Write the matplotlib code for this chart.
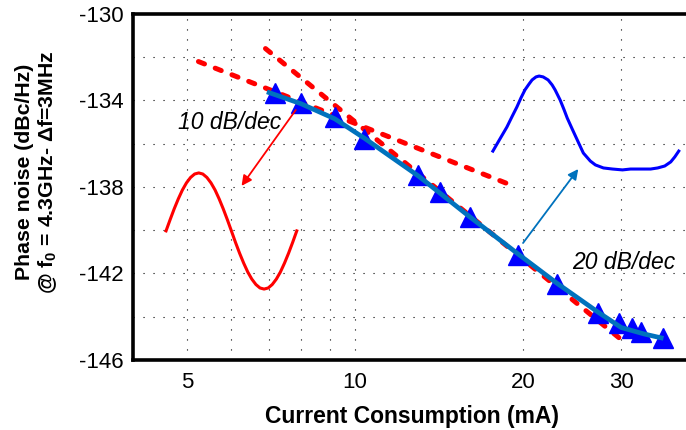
import matplotlib
matplotlib.use("Agg")
import matplotlib.pyplot as plt
from matplotlib.ticker import FixedLocator, NullFormatter

plt.rcParams['font.family'] = ['Liberation Sans', 'DejaVu Sans']
plt.rcParams['mathtext.fontset'] = 'custom'
plt.rcParams['mathtext.rm'] = 'Liberation Sans'
plt.rcParams['mathtext.bf'] = 'Liberation Sans:bold'
plt.rcParams['axes.unicode_minus'] = False

# measured points (current in mA, phase noise in dBc/Hz)
meas_i = [7.18, 7.99, 9.20, 10.38, 12.99, 14.17, 16.05, 19.58, 23.0, 27.3, 29.7, 31.3, 32.6, 35.7]
meas_pn = [-133.65, -134.12, -134.77, -135.79, -137.45, -138.24, -139.40, -141.16,
           -142.50, -143.84, -144.31, -144.54, -144.72, -145.0]

# smooth fit through the measurements
fit_i = [6.95, 8.0, 9.2, 10.4, 13.0, 16.0, 19.6, 23.0, 27.3, 30.0, 33.0, 35.7]
fit_pn = [-133.6, -134.15, -134.85, -135.75, -137.5, -139.35, -141.1, -142.45, -143.8,
          -144.5, -144.8, -145.0]

# slope guide lines
g10_i = [5.24, 19.2]
g10_pn = [-132.2, -137.95]
g20_i = [6.91, 30.8]
g20_pn = [-131.6, -145.3]

# waveform sketches
red_w_i = [4.584, 4.662, 4.741, 4.822, 4.904, 4.987, 5.072, 5.158, 5.246, 5.335, 5.426,
           5.518, 5.612, 5.707, 5.804, 5.903, 6.003, 6.105, 6.209, 6.315, 6.422, 6.531,
           6.642, 6.755, 6.870, 6.987, 7.105, 7.226, 7.349, 7.474, 7.601, 7.730, 7.862]
red_w_pn = [-140.03, -139.51, -139.01, -138.55, -138.14, -137.81, -137.56, -137.40, -137.35,
            -137.40, -137.56, -137.81, -138.14, -138.55, -139.01, -139.51, -140.03,
            -140.56, -141.06, -141.52, -141.93, -142.26, -142.51, -142.67, -142.72,
            -142.67, -142.51, -142.26, -141.93, -141.52, -141.06, -140.56, -140.03]
blue_w_i = [17.66, 18.18, 18.71, 19.10, 19.50, 19.83, 20.16, 20.50, 20.76, 21.10, 21.37,
            21.73, 22.18, 22.55, 22.83, 23.31, 23.70, 24.00, 24.50, 25.02, 25.65, 26.40,
            26.96, 27.87, 28.93, 30.15, 31.17, 32.49, 33.86, 34.86, 35.89, 36.79, 37.41, 38.03]
blue_w_pn = [-136.34, -135.78, -135.23, -134.76, -134.30, -133.88, -133.51, -133.24, -133.05,
             -132.91, -132.87, -132.91, -133.05, -133.28, -133.51, -133.98, -134.44, -134.81,
             -135.32, -135.83, -136.43, -136.80, -136.98, -137.12, -137.17, -137.21, -137.17,
             -137.17, -137.17, -137.12, -137.03, -136.84, -136.61, -136.34]

fig = plt.figure(figsize=(6.86, 4.30), dpi=100)
ax = fig.add_axes([0.1939, 0.1628, 0.8134, 0.8047])
ax.set_xscale('log')
ax.set_xlim(4, 40)
ax.set_ylim(-146, -130)

red = '#FF0000'
teal = '#0072BD'

for gi, gp in [(g10_i, g10_pn), (g20_i, g20_pn)]:
    ln, = ax.plot(gi, gp, color=red, lw=3.6, zorder=3)
    ln.set_dashes([1.3, 2.3])
    ln.set_dash_capstyle('round')

ax.plot(meas_i, meas_pn, ls='none', marker='^', ms=14, color='#0000FF', zorder=4)
ax.plot(fit_i, fit_pn, color=teal, lw=3.4, zorder=5, solid_capstyle='butt')

ax.plot(red_w_i, red_w_pn, color=red, lw=2.2, zorder=3, solid_joinstyle='round')
ax.plot(blue_w_i, blue_w_pn, color='#0000FF', lw=2.2, zorder=3, solid_joinstyle='round')

ax.annotate('', xy=(6.26, -137.95), xytext=(7.83, -134.44),
            arrowprops=dict(arrowstyle='-|>', color=red, lw=1.3, mutation_scale=15, shrinkA=0, shrinkB=0),
            zorder=6)
ax.annotate('', xy=(25.12, -137.17), xytext=(20.0, -140.59),
            arrowprops=dict(arrowstyle='-|>', color=teal, lw=1.3, mutation_scale=15, shrinkA=0, shrinkB=0),
            zorder=6)

ax.text(4.82, -135.0, '10 dB/dec', fontsize=16.5, style='italic', ha='left', va='center', zorder=7)
ax.text(24.5, -141.5, '20 dB/dec', fontsize=16.5, style='italic', ha='left', va='center', zorder=7)

ax.xaxis.set_major_locator(FixedLocator([5, 10, 20, 30]))
ax.xaxis.set_minor_locator(FixedLocator([6, 7, 8, 9]))
ax.xaxis.set_minor_formatter(NullFormatter())
ax.set_xticklabels(['5', '10', '20', '30'])
ax.yaxis.set_major_locator(FixedLocator([-146, -142, -138, -134, -130]))
ax.yaxis.set_minor_locator(FixedLocator([-144, -140, -136, -132]))

ax.grid(True, which='both', color='black', lw=0.8, ls=(0, (1, 8)))
ax.tick_params(which='both', length=0, labelsize=16)
ax.tick_params(axis='y', pad=7)
ax.tick_params(axis='x', pad=9)

for s in ['top', 'left', 'bottom']:
    ax.spines[s].set_linewidth(2.6)
ax.spines['right'].set_visible(False)

ax.set_xlabel('Current Consumption (mA)', fontsize=16.5, fontweight='bold', labelpad=8)
fig.text(0.054, 0.6, 'Phase noise (dBc/Hz)\n' + r'@ f$_\mathbf{0}$ = 4.3GHz- Δf=3MHz',
         rotation=90, fontsize=15.3, fontweight='bold', ha='center', va='center',
         multialignment='center', linespacing=1.15)

fig.savefig('out.png', dpi=100)
